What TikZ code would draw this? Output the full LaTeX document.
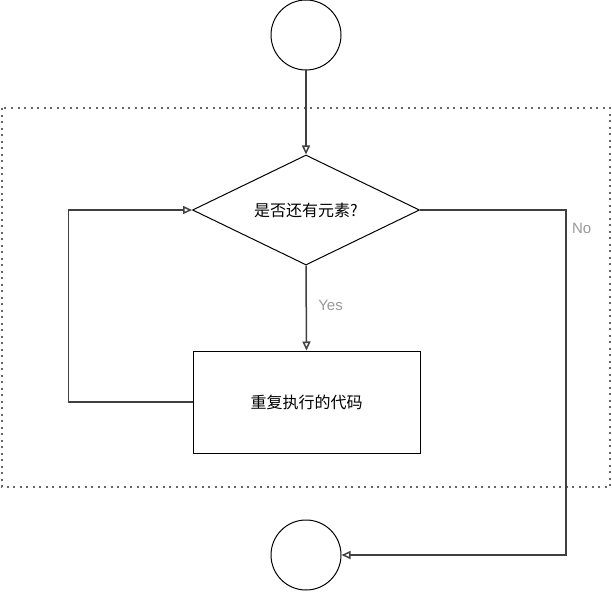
\documentclass[tikz,border=0pt]{standalone}
\usepackage{fontspec}
\setmainfont{Liberation Sans}
\newfontfamily\cjk{Noto Sans CJK SC}
\usetikzlibrary{shapes.geometric,arrows.meta}

\begin{document}
\begin{tikzpicture}[x=1pt,y=-1pt,
    outline/.style={draw=black, line width=1pt},
    flow/.style={draw=black!75, line width=1.5pt, -{Triangle[open, length=9pt, width=8pt]}},
    lbl/.style={text=black!40, font=\fontsize{15}{17}\selectfont}]
    \useasboundingbox (0,0) rectangle (612,591);
    \draw[black!60, line width=1.5pt, dash pattern=on 2pt off 4.5pt] (2,108) rectangle (610,487);

    \node[outline, circle, minimum size=70pt] (start) at (306,35) {};
    \node[outline, diamond, aspect=2, minimum width=227pt, minimum height=110pt, inner sep=0pt] (cond) at (306,210) {\cjk\fontsize{16}{19}\selectfont 是否还有元素?};
    \node[outline, rectangle, minimum width=227pt, minimum height=102pt] (body) at (306.5,402) {\cjk\fontsize{16}{19}\selectfont 重复执行的代码};
    \node[outline, circle, minimum size=70pt] (stop) at (306,555) {};

    \draw[flow] (start) -- (cond);
    \draw[flow] (cond.south) -- node[lbl, right, xshift=8pt, yshift=3pt] {Yes} (body.north);
    \draw[flow] (body.west) -- ++(-124,0) |- (cond.west);
    \draw[flow] (cond.east) -- ++(146,0) node[lbl, below right, xshift=2pt, yshift=-9pt] {No} |- (stop.east);
\end{tikzpicture}
\end{document}
